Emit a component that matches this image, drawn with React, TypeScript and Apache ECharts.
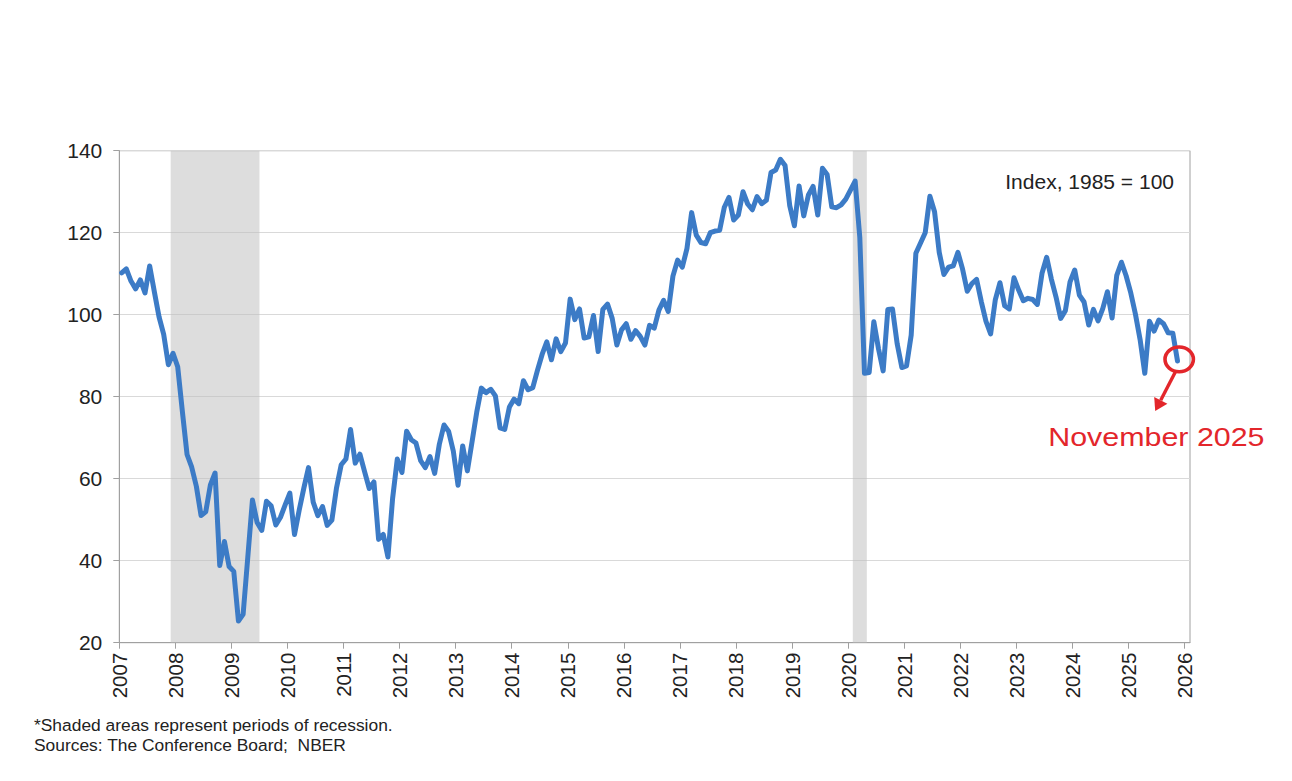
import React, { useEffect, useRef } from "react";
import * as echarts from "echarts";

// Consumer Confidence Index (Index, 1985 = 100), monthly, Jan 2007 – Nov 2025
const startYear = 2007;
const cci2007 = [110.2, 111.2, 108.2, 106.3, 108.5, 105.3, 111.9, 105.6, 99.5, 95.2, 87.8, 90.6];
const cci2008 = [87.3, 76.4, 65.9, 62.8, 58.1, 51.0, 51.9, 58.5, 61.4, 38.8, 44.7, 38.6];
const cci2009 = [37.4, 25.3, 26.9, 40.8, 54.8, 49.3, 47.4, 54.5, 53.4, 48.7, 50.6, 53.6];
const cci2010 = [56.5, 46.4, 52.3, 57.7, 62.7, 54.3, 51.0, 53.2, 48.6, 49.9, 57.8, 63.4];
const cci2011 = [64.8, 72.0, 63.8, 66.0, 61.7, 57.6, 59.2, 45.2, 46.4, 40.9, 55.2, 64.8];
const cci2012 = [61.5, 71.6, 69.5, 68.7, 64.4, 62.7, 65.4, 61.3, 68.4, 73.1, 71.5, 66.7];
const cci2013 = [58.4, 68.0, 61.9, 69.0, 76.2, 82.1, 81.0, 81.8, 80.2, 72.4, 72.0, 77.5];
const cci2014 = [79.4, 78.3, 83.9, 81.7, 82.2, 86.4, 90.3, 93.4, 89.0, 94.1, 91.0, 93.1];
const cci2015 = [103.8, 98.8, 101.4, 94.3, 94.6, 99.8, 91.0, 101.3, 102.6, 99.1, 92.6, 96.3];
const cci2016 = [97.8, 94.0, 96.1, 94.7, 92.6, 97.4, 96.7, 101.1, 103.5, 100.8, 109.4, 113.3];
const cci2017 = [111.6, 116.1, 124.9, 119.4, 117.6, 117.3, 120.0, 120.4, 120.6, 126.2, 128.6, 123.1];
const cci2018 = [124.3, 130.0, 127.0, 125.6, 128.8, 127.1, 127.9, 134.7, 135.3, 137.9, 136.4, 126.6];
const cci2019 = [121.7, 131.4, 124.1, 129.2, 131.3, 124.3, 135.7, 134.2, 126.3, 126.1, 126.8, 128.2];
const cci2020 = [130.4, 132.6, 118.8, 85.7, 85.9, 98.3, 91.7, 86.3, 101.3, 101.4, 92.9, 87.1];
const cci2021 = [87.5, 95.0, 115.0, 117.5, 120.0, 128.9, 125.1, 115.2, 109.8, 111.6, 111.9, 115.2];
const cci2022 = [111.1, 105.7, 107.6, 108.6, 103.2, 98.4, 95.3, 103.6, 107.8, 102.2, 101.4, 109.0];
const cci2023 = [106.0, 103.4, 104.0, 103.7, 102.5, 110.1, 114.0, 108.7, 104.3, 99.1, 101.0, 108.0];
const cci2024 = [110.9, 104.8, 103.1, 97.5, 101.3, 98.5, 101.5, 105.6, 99.2, 109.6, 112.8, 109.5];
const cci2025 = [105.3, 100.1, 93.9, 85.7, 98.4, 96.0, 98.7, 97.8, 95.6, 95.5, 88.7];

const yearLabels = [
  2007, 2008, 2009, 2010, 2011, 2012, 2013, 2014, 2015, 2016,
  2017, 2018, 2019, 2020, 2021, 2022, 2023, 2024, 2025, 2026,
];
const yTicks = [20, 40, 60, 80, 100, 120, 140];

// NBER recessions (first month, last month)
const recessionStarts = ["2007-12", "2020-02"];
const recessionEnds = ["2009-06", "2020-04"];

const unitText = "Index, 1985 = 100";
const calloutText = "November 2025";
const footnote1 = "*Shaded areas represent periods of recession.";
const footnote2 = "Sources: The Conference Board;  NBER";

const allValues = [
  ...cci2007, ...cci2008, ...cci2009, ...cci2010, ...cci2011, ...cci2012, ...cci2013,
  ...cci2014, ...cci2015, ...cci2016, ...cci2017, ...cci2018, ...cci2019, ...cci2020,
  ...cci2021, ...cci2022, ...cci2023, ...cci2024, ...cci2025,
];

const monthStart = (s: string) => {
  const [y, m] = s.split("-").map(Number);
  return y + (m - 1) / 12;
};
const monthEnd = (s: string) => {
  const [y, m] = s.split("-").map(Number);
  return y + m / 12;
};

const FONT = "'Liberation Sans', Arial, sans-serif";
const TEXT = "#222222";
const GRAY = "#a0a0a0";
const RED = "#e3262b";

export default function App() {
  const ref = useRef<HTMLDivElement>(null);

  useEffect(() => {
    if (!ref.current) return;
    const chart = echarts.init(ref.current, undefined, { renderer: "svg" });

    const lineData = allValues.map((v, i) => [startYear + (i + 0.5) / 12, v]);
    const areas = recessionStarts.map((s, i) => [
      { xAxis: monthStart(s) },
      { xAxis: monthEnd(recessionEnds[i]) },
    ]);

    chart.setOption({
      animation: false,
      backgroundColor: "#ffffff",
      grid: {
        left: 119.3,
        right: 102,
        top: 150.7,
        bottom: 138.3,
        show: true,
        borderColor: GRAY,
        borderWidth: 1,
        backgroundColor: "transparent",
      },
      xAxis: {
        type: "value",
        min: yearLabels[0],
        max: yearLabels[yearLabels.length - 1] + 0.098,
        splitLine: { show: false },
        axisLine: { show: true, lineStyle: { color: GRAY, width: 1 } },
        axisTick: {
          show: true,
          length: 6,
          customValues: yearLabels,
          lineStyle: { color: GRAY },
        },
        axisLabel: {
          customValues: yearLabels,
          rotate: 90,
          margin: 10,
          fontSize: 20.5,
          fontFamily: FONT,
          color: TEXT,
          formatter: (v: number) => String(Math.round(v)),
        },
      },
      yAxis: {
        type: "value",
        min: yTicks[0],
        max: yTicks[yTicks.length - 1],
        interval: 20,
        axisLine: { show: true, lineStyle: { color: GRAY, width: 1 } },
        axisTick: { show: true, length: 6, lineStyle: { color: GRAY } },
        splitLine: { show: true, lineStyle: { color: "#d9d9d9", width: 1 } },
        axisLabel: {
          margin: 17,
          fontSize: 21,
          fontFamily: FONT,
          color: TEXT,
        },
      },
      series: [
        {
          type: "line",
          name: "recessions",
          data: [],
          z: 1,
          silent: true,
          markArea: {
            silent: true,
            itemStyle: { color: "rgba(190,190,190,0.52)" },
            data: areas,
          },
        },
        {
          type: "line",
          name: "Consumer Confidence Index",
          data: lineData,
          z: 3,
          showSymbol: false,
          symbol: "none",
          lineStyle: { color: "#3c7bc6", width: 5, join: "round", cap: "round" },
        },
      ],
    });

    const last = lineData[lineData.length - 1];
    const p = chart.convertToPixel({ xAxisIndex: 0, yAxisIndex: 0 }, last) as number[];
    const cx = p[0] + 1.7;
    const cy = p[1] - 1.7;

    chart.setOption({
      graphic: [
        {
          type: "text",
          x: 1174,
          y: 181,
          style: {
            text: unitText,
            fontSize: 21,
            fontFamily: FONT,
            fill: TEXT,
            align: "right",
            verticalAlign: "middle",
          },
        },
        {
          type: "ellipse",
          shape: { cx, cy, rx: 14.2, ry: 12.4 },
          style: { fill: "none", stroke: RED, lineWidth: 3.6 },
          z: 10,
        },
        {
          type: "line",
          shape: { x1: cx - 4, y1: cy + 13, x2: cx - 18.5, y2: cy + 41 },
          style: { stroke: RED, lineWidth: 3.4 },
          z: 10,
        },
        {
          type: "polygon",
          shape: {
            points: [
              [cx - 24, cy + 51.7],
              [cx - 11.8, cy + 44.5],
              [cx - 25, cy + 37.6],
            ],
          },
          style: { fill: RED },
          z: 10,
        },
        {
          type: "text",
          x: cx - 131,
          y: cy + 77,
          scaleX: 1.17,
          style: {
            text: calloutText,
            fontSize: 26,
            fontFamily: FONT,
            fill: RED,
            align: "left",
            verticalAlign: "middle",
          },
          z: 10,
        },
        {
          type: "text",
          x: 34,
          y: 725,
          style: {
            text: footnote1,
            fontSize: 17.4,
            fontFamily: FONT,
            fill: TEXT,
            align: "left",
            verticalAlign: "middle",
          },
        },
        {
          type: "text",
          x: 34,
          y: 745,
          style: {
            text: footnote2,
            fontSize: 17.4,
            fontFamily: FONT,
            fill: TEXT,
            align: "left",
            verticalAlign: "middle",
          },
        },
      ],
    });

    return () => {
      chart.dispose();
    };
  }, []);

  return (
    <div
      ref={ref}
      style={{
        position: "fixed",
        left: 0,
        top: 0,
        width: 1292,
        height: 781,
        background: "#ffffff",
      }}
    />
  );
}
